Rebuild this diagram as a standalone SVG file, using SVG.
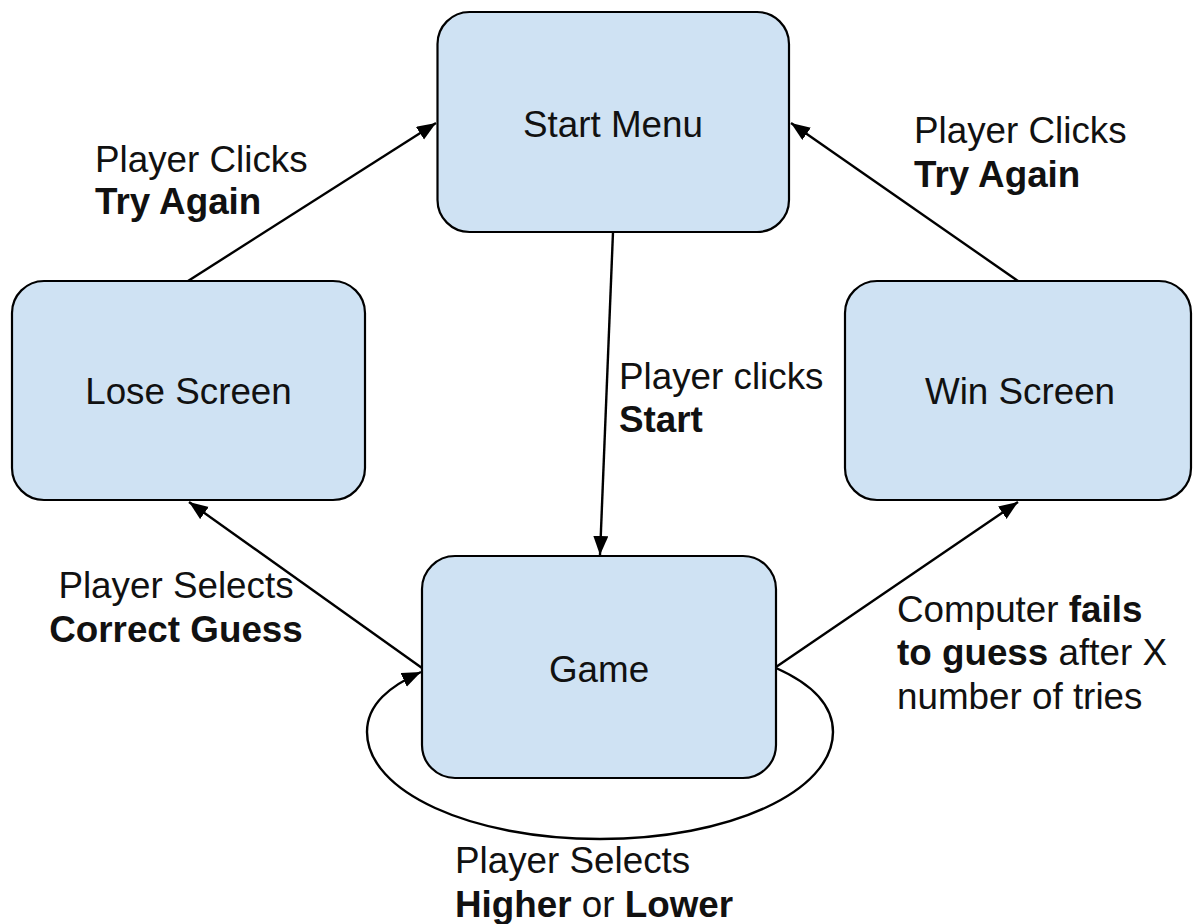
<svg xmlns="http://www.w3.org/2000/svg" width="1193" height="924" viewBox="0 0 1193 924">
<style>
.node{fill:#cfe2f3;stroke:#000;stroke-width:2.2}
.lbl{font-family:"Liberation Sans",Arial,sans-serif;font-size:36.8px;fill:#111}
.c{text-anchor:middle}
.b{font-weight:bold}
.edge{fill:none;stroke:#000;stroke-width:2.4}
</style>
<defs>
<marker id="ah" markerUnits="userSpaceOnUse" markerWidth="20" markerHeight="16" refX="19" refY="7.5" orient="auto">
<path d="M0,0 L19,7.5 L0,15 z" fill="#000"/>
</marker>
</defs>
<rect width="1193" height="924" fill="#fff"/>
<g id="start-menu">
<rect class="node" x="437.5" y="12" width="351.5" height="220" rx="32" ry="32"/>
<text class="lbl c" x="613" y="137">Start Menu</text>
</g>
<g id="lose-screen">
<rect class="node" x="12" y="281" width="353" height="219" rx="32" ry="32"/>
<text class="lbl c" x="188.5" y="404">Lose Screen</text>
</g>
<g id="win-screen">
<rect class="node" x="845" y="281" width="346" height="219" rx="32" ry="32"/>
<text class="lbl c" x="1020" y="404">Win Screen</text>
</g>
<g id="game">
<rect class="node" x="422" y="556" width="354" height="222" rx="33" ry="33"/>
<text class="lbl c" x="599" y="682">Game</text>
</g>
<g id="connectors">
<line class="edge" x1="188" y1="281" x2="436" y2="123" marker-end="url(#ah)"/>
<line class="edge" x1="1018" y1="281" x2="791" y2="123" marker-end="url(#ah)"/>
<line class="edge" x1="613" y1="232" x2="600" y2="555" marker-end="url(#ah)"/>
<line class="edge" x1="422" y1="668" x2="189" y2="502" marker-end="url(#ah)"/>
<line class="edge" x1="776" y1="667" x2="1018" y2="502" marker-end="url(#ah)"/>
<path class="edge" d="M776,668 C812,684 833,705 833,732 C833,792 729,839 600,839 C471,839 367,792 367,732 C367,704 390,686 421,672" marker-end="url(#ah)"/>
</g>
<g id="labels">
<text class="lbl" x="95" y="172">Player Clicks</text>
<text class="lbl b" x="95" y="214">Try Again</text>
<text class="lbl" x="914" y="143">Player Clicks</text>
<text class="lbl b" x="914" y="187">Try Again</text>
<text class="lbl" x="619" y="389">Player clicks</text>
<text class="lbl b" x="619" y="432">Start</text>
<text class="lbl c" x="176" y="598">Player Selects</text>
<text class="lbl c b" x="176" y="642">Correct Guess</text>
<text class="lbl" x="897" y="622">Computer <tspan class="b">fails</tspan></text>
<text class="lbl" x="897" y="665"><tspan class="b">to guess</tspan> after X</text>
<text class="lbl" x="897" y="709">number of tries</text>
<text class="lbl" x="455" y="873">Player Selects</text>
<text class="lbl" x="455" y="917"><tspan class="b">Higher</tspan> or <tspan class="b">Lower</tspan></text>
</g>
</svg>
